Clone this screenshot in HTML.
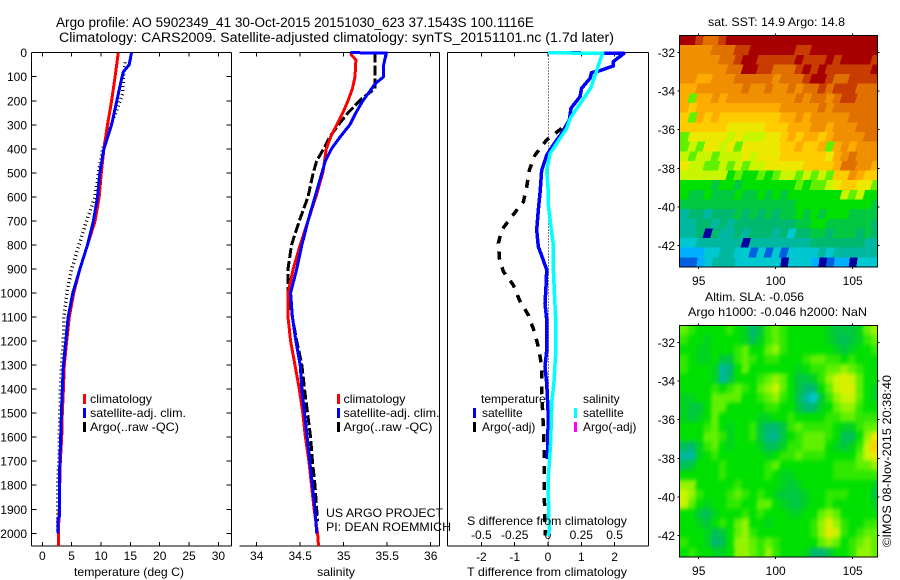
<!DOCTYPE html>
<html lang="en">
<head>
<meta charset="utf-8">
<title>Argo profile 5902349_41</title>
<style>
html,body{margin:0;padding:0;background:#fff;}
svg{display:block;}
text{font-family:"Liberation Sans",sans-serif;font-size:12px;fill:#000;}
</style>
</head>
<body>
<svg id="fig" xmlns="http://www.w3.org/2000/svg" width="900" height="580" viewBox="0 0 900 580">
<defs>
<filter id="smooth" x="-10%" y="-10%" width="120%" height="120%" color-interpolation-filters="sRGB"><feGaussianBlur stdDeviation="1.7 2"/></filter>
<clipPath id="clip-sst"><rect x="679.5" y="35.5" width="198" height="231.5"/></clipPath>
<clipPath id="clip-sla"><rect x="679.5" y="325.5" width="198" height="231.5"/></clipPath>
</defs>
<rect x="0" y="0" width="900" height="580" fill="#fff"/>
<g id="maps"></g>
<g id="plots"></g>
<text x="56" y="27" textLength="478" lengthAdjust="spacingAndGlyphs" style="font-size:13.5px">Argo profile: AO 5902349_41 30-Oct-2015 20151030_623 37.1543S 100.1116E</text>
<text x="59" y="42" textLength="555" lengthAdjust="spacingAndGlyphs" style="font-size:13.5px">Climatology: CARS2009. Satellite-adjusted climatology: synTS_20151101.nc (1.7d later)</text>
<text x="74" y="576" textLength="110" lengthAdjust="spacingAndGlyphs">temperature (deg C)</text>
<text x="317" y="576" textLength="38" lengthAdjust="spacingAndGlyphs">salinity</text>
<text x="467" y="576" textLength="160" lengthAdjust="spacingAndGlyphs">T difference from climatology</text>
<text x="467" y="525" textLength="160" lengthAdjust="spacingAndGlyphs">S difference from climatology</text>
<text x="326" y="517" textLength="117" lengthAdjust="spacingAndGlyphs">US ARGO PROJECT</text>
<text x="326" y="531" textLength="125" lengthAdjust="spacingAndGlyphs">PI: DEAN ROEMMICH</text>

<g>
<rect x="83" y="394" width="3" height="10" fill="#f00"/>
<text x="90" y="403" textLength="62" lengthAdjust="spacingAndGlyphs">climatology</text>
<rect x="83" y="408" width="3" height="10" fill="#00f"/>
<text x="90" y="417" textLength="96" lengthAdjust="spacingAndGlyphs">satellite-adj. clim.</text>
<rect x="83" y="422" width="3" height="10" fill="#000"/>
<text x="90" y="431" textLength="89" lengthAdjust="spacingAndGlyphs">Argo(..raw -QC)</text>
</g>
<g>
<rect x="337" y="394" width="3" height="10" fill="#f00"/>
<text x="343.5" y="403" textLength="62" lengthAdjust="spacingAndGlyphs">climatology</text>
<rect x="337" y="408" width="3" height="10" fill="#00f"/>
<text x="343.5" y="417" textLength="96" lengthAdjust="spacingAndGlyphs">satellite-adj. clim.</text>
<rect x="337" y="422" width="3" height="10" fill="#000"/>
<text x="343.5" y="431" textLength="89" lengthAdjust="spacingAndGlyphs">Argo(..raw -QC)</text>
</g>

<text x="708" y="26" textLength="137" lengthAdjust="spacingAndGlyphs">sat. SST: 14.9 Argo: 14.8</text>
<text x="705" y="301" textLength="99" lengthAdjust="spacingAndGlyphs">Altim. SLA: -0.056</text>
<text x="688" y="316" textLength="179" lengthAdjust="spacingAndGlyphs">Argo h1000: -0.046 h2000: NaN</text>
<text transform="translate(891,547) rotate(-90)" textLength="172" lengthAdjust="spacingAndGlyphs">©IMOS 08-Nov-2015 20:38:40</text>
</svg>

<script>
// ---- chart data ----
var depthTicks = [0,100,200,300,400,500,600,700,800,900,1000,1100,1200,1300,1400,1500,1600,1700,1800,1900,2000];
var tempTicks = [0,5,10,15,20,25,30];
var salTicks = [34,34.5,35,35.5,36];
var salTickLabels = ['34','34.5','35','35.5','36'];
var tDiffTicks = [-2,-1,0,1,2];
var sDiffTicks = [-0.5,-0.25,0,0.25,0.5];
var latTicks = [-32,-34,-36,-38,-40,-42];
var lonTicks = [95,100,105];

var tempClimDepth = [0,100,200,300,400,500,600,700,800,900,1000,1100,1200,1300,1400,1500,1600,1700,1800,1900,2000,2053];
var tempClimValues = [12.95,12.4,11.8,11.1,10.5,10.05,9.7,9.0,7.7,6.4,5.35,4.6,4.15,3.75,3.6,3.4,3.3,3.07,2.96,2.9,2.73,2.73];
var tempSatDepth = [0,50,80,100,200,300,400,500,600,700,800,900,1000,1100,1200,1300,1400,1500,1600,1700,1800,1930,1940,2000];
var tempSatValues = [15.2,14.8,13.8,13.6,12.7,11.8,10.5,9.8,9.4,8.7,7.7,6.4,5.2,4.4,4.0,3.6,3.4,3.25,3.13,3.0,2.9,2.9,2.67,2.67];
var tempArgoDepth = [40,100,170,300,400,500,600,700,800,900,1000,1100,1200,1300,1400,1500,1600,1700,1800,2000];
var tempArgoValues = [14.1,13.8,13.7,11.7,10.3,9.55,9.0,7.55,6.25,5.0,4.15,3.7,3.6,3.3,3.1,3.0,2.9,2.85,2.6,2.6];

var salClimDepth = [0,10,30,100,150,200,250,300,350,400,450,500,600,700,800,900,1000,1100,1200,1300,1400,1500,1600,1700,1800,1900,2000,2053];
var salClimValues = [35.08,35.09,35.14,35.13,35.1,35.05,34.99,34.92,34.85,34.8,34.78,34.76,34.68,34.59,34.5,34.42,34.36,34.36,34.39,34.44,34.49,34.53,34.56,34.6,34.63,34.66,34.70,34.71];
var salSatDepth = [0,1,50,100,130,170,200,250,300,350,400,450,500,600,700,800,900,1000,1100,1200,1300,1400,1500,1600,1700,1800,1900,2000];
var salSatValues = [35.08,35.49,35.46,35.46,35.36,35.28,35.22,35.14,35.07,34.96,34.86,34.79,34.75,34.67,34.59,34.52,34.46,34.39,34.41,34.45,34.5,34.52,34.55,34.58,34.61,34.64,34.67,34.69];
var salArgoDepth = [0,100,150,190,250,300,350,400,450,500,600,700,800,900,1000,1100,1200,1300,1400,1500,1600,1700,1800,1900,1950];
var salArgoValues = [35.36,35.36,35.36,35.21,35.05,34.94,34.84,34.77,34.69,34.65,34.59,34.49,34.4,34.36,34.36,34.41,34.46,34.52,34.55,34.585,34.62,34.64,34.67,34.69,34.7];

var tDiffSatDepth = [0,3,37,55,75,83,107,148,183,231,280,335,384,426,488,585,655,738,807,863,904,974,1043,1112,1237,1307,1375,1515,1690];
var tDiffSatValues = [0,2.28,1.96,1.96,1.56,1.31,1.26,1.01,0.96,0.69,0.64,0.41,0.16,-0.04,-0.19,-0.24,-0.29,-0.34,-0.29,-0.14,-0.04,-0.06,-0.09,-0.04,-0.04,-0.09,-0.04,0.01,-0.02];
var sDiffSatDepth = [0,3,148,270,315,420,489,561,622,692,800,900,987,1112,1250,1368,1460,1620,1790,1990,2010];
var sDiffSatValues = [0,0.41,0.32,0.17,0.14,0.015,-0.01,0,0,0.015,0.04,0.04,0.047,0.058,0.058,0.045,0.028,0.02,0,0.01,0];
var tDiffArgoDepth = [315,363,426,488,558,620,682,738,793,855,911,967,1029,1092,1168,1237,1307,1404,1557,1681,1833,1973,2010];
var tDiffArgoValues = [0.41,-0.04,-0.39,-0.56,-0.64,-0.74,-1.09,-1.39,-1.49,-1.46,-1.34,-1.04,-0.86,-0.59,-0.39,-0.27,-0.19,-0.19,-0.14,-0.11,-0.11,-0.09,-0.09];

var sstGrid = [
[0,0,1,2,2,1,0,0,0,0,0,0,0,0,0,0,0,0,0,0,0,0,0,0,0,0],
[3,3,3,3,2,2,2,1,1,0,0,0,0,0,0,1,1,0,0,0,0,0,0,0,0,0],
[3,3,3,3,3,2,2,1,0,0,1,1,1,1,1,0,1,1,1,0,1,0,0,0,0,1],
[3,3,3,3,3,3,2,2,0,0,1,1,2,2,2,1,0,1,0,1,1,1,1,1,1,0],
[3,3,4,4,3,3,3,2,2,2,2,2,3,2,2,2,1,0,0,1,2,2,1,1,1,1],
[4,4,3,3,3,3,3,3,2,3,3,2,3,3,2,3,2,2,1,2,1,1,1,2,2,2],
[4,8,4,4,3,4,3,3,3,3,3,3,3,3,3,2,3,2,2,3,2,1,1,2,2,2],
[4,5,4,4,4,4,4,4,4,4,4,4,4,3,3,3,3,3,2,3,2,2,2,2,2,2],
[5,8,4,5,4,5,5,5,5,5,5,5,5,4,4,3,4,3,3,3,3,3,2,2,2,2],
[5,5,5,5,5,5,6,6,6,6,6,5,5,5,4,4,4,3,3,4,3,3,3,2,2,2],
[8,6,6,6,6,6,7,6,7,7,7,6,6,5,4,5,4,4,5,4,3,3,3,3,2,2],
[8,7,8,6,6,7,6,8,6,6,6,6,6,5,5,4,5,5,4,8,4,3,4,3,3,3],
[7,8,7,7,8,7,7,7,6,7,6,6,6,5,5,5,5,5,5,6,4,3,2,3,3,3],
[6,7,7,8,8,7,8,7,8,7,7,6,6,6,6,6,5,5,5,5,4,2,2,3,3,4],
[7,7,7,7,7,7,9,8,9,9,8,9,8,7,7,8,7,8,7,8,5,5,3,4,5,5],
[9,9,9,9,10,9,9,10,9,9,9,9,9,9,9,8,9,8,8,7,6,5,5,6,6,8],
[9,10,10,9,10,10,10,9,10,10,9,10,9,10,9,9,9,9,9,9,9,7,8,7,9,9],
[10,10,10,10,10,10,10,10,10,10,10,10,10,10,10,9,9,9,9,9,9,9,9,9,9,10],
[12,11,11,12,11,11,11,10,11,10,11,10,11,10,10,9,10,9,10,9,9,9,10,10,10,10],
[12,12,11,11,12,11,12,11,11,11,11,11,11,11,11,10,10,9,9,10,10,10,10,10,10,11],
[12,12,11,16,11,12,12,11,12,11,11,11,12,11,13,11,11,10,10,11,10,10,10,11,10,11],
[13,13,12,12,12,12,12,12,16,12,12,12,12,12,12,12,12,11,11,11,11,11,11,11,12,12],
[14,14,14,13,13,12,12,13,13,15,13,15,13,15,13,13,13,13,12,13,12,12,12,12,12,12],
[15,15,14,13,12,12,12,13,13,13,13,13,13,16,13,13,13,14,16,15,14,14,16,13,13,13]
];
var slaGrid = [
[8,8.5,9,9,9,9,8.5,9,9.5,11,10,8.5,8,8.5,9,9,9,9,9,9.5,10,10,10,9.5,8,7.5],
[8.5,9,9,9.5,9,9,9,9,9.5,10.5,9.5,8.5,8,8.5,9,9,9,9,9,9.5,10,10.5,10,9.5,8.5,8],
[9,9,9.5,9.5,9,9,9,8.5,8,9,9,8,7.5,8.5,9,9,9,9,9,9,9.5,10,9.5,9,9,8.5],
[8.5,9,9.5,9.5,9,10,10,8.5,8,8.5,9,8.5,8.5,9,9,9,8.5,8,8,8.5,8.5,9,8.5,9,9,9],
[8.5,9,9,9,9.5,12,11,9,8,9,9,9,9,9,9,9.5,9,8.5,8.5,8,8,7.5,8,8.5,9,9],
[9,9,9,9,9.5,12,10.5,9,9,9,8.5,8,7.5,8,9,10,10,9.5,8.5,7.5,7,6.5,7,8,9,9],
[9,9,9,9,8.5,9,8.5,8,8.5,9,8,7.5,7,8,9,10,11,11,9,8,7,6.5,6.5,8,9,9.5],
[9.5,9.5,9,9,8,8,8,8,9,9,8.5,8,7.5,8.5,9,10.5,12,13,10,8.5,7.5,7,7,8,9,9.5],
[9.5,10,10,9,8,8,9,9,9,9,9,8.5,8.5,9,9,10,11,11,9.5,9,8,7.5,7.5,8.5,9,9],
[9.5,10,9.5,9,8,9,9,9,9,9,9.5,9.5,9,9,8.5,9,9,9,9,8.5,8.5,8,8,8.5,8.5,8.5],
[9,9,9,8.5,8,9,9.5,9,9,8.5,10,11,11,10,8.5,8,8.5,8.5,8.5,8.5,9,9.5,9.5,8.5,8,8],
[9,9,9,8,8,8.5,9.5,9,9,8.5,10,11.5,11.5,10,9,8.5,8,8,8,8.5,9,10.5,10.5,9,7.5,6],
[10.5,11,9.5,8.5,8,9,9.5,9,9,9,9.5,10.5,10.5,9.5,8.5,8.5,8,8,8,9,9.5,10,9.5,8.5,7,5],
[12,12,9.5,9,8.5,9,9,9,9,9,9,9.5,9,8.5,8.5,8,8.5,8.5,8.5,9,9,9,9,8,7,6],
[10.5,10,9,9,9,8.5,9,9,9,9,9,8.5,8,9,9,9,9,9,9,9,8.5,8.5,8.5,8,8,7.5],
[9,9,9,9,9,8.5,9,9,9,9,9,8.5,9,9.5,9.5,9,9,9,9,9,8.5,8.5,8.5,8.5,8.5,8.5],
[7.5,7.5,9,9,9,9,9,8.5,9,9,9,9,9,9.5,10,9.5,9,9,9,9,9,9,9,9,9,9.5],
[7,7.5,8.5,9,9,9,8.5,8,8.5,9,8.5,9,9.5,10,10,10,9.5,9,9,8.5,8.5,8.5,9,9,9,10],
[7,8,9,9.5,9,9,8.5,8.5,9,9,8,8,9,9.5,10,10,9.5,9,9,8.5,9,9,9,9,9,9.5],
[9,9,10,10.5,9.5,9,9,9,8.5,9,8.5,9,9,9,9.5,9.5,9,9,8,7.5,8,9,9,9,9,9],
[9,9,9.5,10,9,8.5,9,8,7.5,9,9,9.5,9,9,9,9,9,8.5,7.5,6.5,7.5,8.5,9,9,8.5,8.5],
[9,9,9,9.5,10.5,10,9,8,7.5,8.5,9,9,9,9,9,9,9,8.5,7.5,6,7,8.5,9,8.5,8,8],
[8.5,9,9,9.5,11,10.5,9,7.5,7.5,8,8.5,8,8.5,9,9,9,9,9,8,7.5,8,9,8.5,8,7.5,8],
[9,8.5,9,9,9.5,9.5,9,7.5,7.5,8,8.5,7.5,8.5,9,9,9,9.5,11,11,10,9,9,8.5,7.5,7.5,8]
];

// ---- axis functions ----
function yDepth(d){ return 52.7 + d*0.2403; }
function xTemp(v){ return 42.3 + v*5.87; }
function xSal(v){ return 256.7 + (v-34)*87; }
function xTDiff(v){ return 548 + v*33.3; }
function xSDiff(v){ return 548 + v*133.2; }
function xLon(v){ return 698.7 + (v-95)*15.4; }
function yLat(v, top){ return top + 17 + (-32-v)*19.3; }

var NS = 'http://www.w3.org/2000/svg';
var plots = document.getElementById('plots');
var maps = document.getElementById('maps');
function mk(tag, parent, attrs){
  var el = document.createElementNS(NS, tag);
  for (var k in attrs) el.setAttribute(k, attrs[k]);
  parent.appendChild(el);
  return el;
}
function seg(parent, x1, y1, x2, y2, name){
  var el = mk('line', parent, {x1:x1, y1:y1, x2:x2, y2:y2, stroke:'#000', 'stroke-width':1, 'shape-rendering':'crispEdges'});
  
  
  return el;
}
function label(parent, x, y, str, anchor, name){
  var el = mk('text', parent, {x:x, y:y, 'text-anchor':anchor});
  el.textContent = str;
  
  
  return el;
}
function curve(parent, xs, depths, fx, color, width, dash, name){
  var pts = xs.map(function(v,i){ return fx(v).toFixed(1)+','+yDepth(depths[i]).toFixed(1); }).join(' ');
  var attrs = {points:pts, fill:'none', stroke:color, 'stroke-width':width, 'stroke-linejoin':'round', 'shape-rendering':'crispEdges'};
  if (dash) attrs['stroke-dasharray'] = dash;
  var el = mk('polyline', parent, attrs);
  
  
  return el;
}

var TOP = 52.5, BOT = 546;

// ---- temperature panel ----
var p1 = mk('g', plots, {});


seg(p1, 31.5, TOP, 231.5, TOP, 'temperature-top-axis');
seg(p1, 31.5, BOT, 231.5, BOT, 'temperature-bottom-axis');
seg(p1, 31.5, TOP, 31.5, BOT, 'temperature-left-axis');
seg(p1, 231.5, TOP, 231.5, BOT, 'temperature-right-axis');
depthTicks.forEach(function(d){
  seg(p1, 31.5, yDepth(d), 36.5, yDepth(d), 'depth-tick-left');
  seg(p1, 226.5, yDepth(d), 231.5, yDepth(d), 'depth-tick-right');
  label(p1, 27, yDepth(d)+4.5, String(d), 'end', 'depth-tick-label');
});
tempTicks.forEach(function(t){
  seg(p1, xTemp(t), TOP, xTemp(t), TOP+4, 'temperature-tick-top');
  seg(p1, xTemp(t), BOT-4, xTemp(t), BOT, 'temperature-tick-bottom');
  label(p1, xTemp(t), 560, String(t), 'middle', 'temperature-tick-label');
});
curve(p1, tempArgoValues, tempArgoDepth, xTemp, '#000', 3.5, '1 3', 'temperature-argo-line');
curve(p1, tempClimValues, tempClimDepth, xTemp, '#f00', 3, null, 'temperature-climatology-line');
curve(p1, tempSatValues, tempSatDepth, xTemp, '#00f', 3, null, 'temperature-satellite-line');

// ---- salinity panel ----
var p2 = mk('g', plots, {});


seg(p2, 239.5, TOP, 439.5, TOP, 'salinity-top-axis');
seg(p2, 239.5, BOT, 439.5, BOT, 'salinity-bottom-axis');
seg(p2, 439.5, TOP, 439.5, BOT, 'salinity-right-axis');
salTicks.forEach(function(s,i){
  seg(p2, xSal(s), TOP, xSal(s), TOP+4, 'salinity-tick-top');
  seg(p2, xSal(s), BOT-4, xSal(s), BOT, 'salinity-tick-bottom');
  label(p2, xSal(s), 560, salTickLabels[i], 'middle', 'salinity-tick-label');
});
curve(p2, salArgoValues, salArgoDepth, xSal, '#000', 3, '10 3', 'salinity-argo-line');
curve(p2, salClimValues, salClimDepth, xSal, '#f00', 3, null, 'salinity-climatology-line');
curve(p2, salSatValues, salSatDepth, xSal, '#00f', 3, null, 'salinity-satellite-line');

// ---- difference panel ----
var p3 = mk('g', plots, {});


var zero = seg(p3, 548.5, TOP, 548.5, BOT, 'zero-reference-line');
zero.setAttribute('stroke-dasharray', '1 2');
seg(p3, 447.5, TOP, 648.5, TOP, 'difference-top-axis');
seg(p3, 447.5, BOT, 648.5, BOT, 'difference-bottom-axis');
seg(p3, 447.5, TOP, 447.5, BOT, 'difference-left-axis');
seg(p3, 648.5, TOP, 648.5, BOT, 'difference-right-axis');
tDiffTicks.forEach(function(t){
  seg(p3, xTDiff(t), TOP, xTDiff(t), TOP+4, 'difference-tick-top');
  seg(p3, xTDiff(t), BOT-4, xTDiff(t), BOT, 'difference-tick-bottom');
  label(p3, xTDiff(t), 561, String(t), 'middle', 't-difference-tick-label');
});
sDiffTicks.forEach(function(s){
  label(p3, xSDiff(s), 539, String(s), 'middle', 's-difference-tick-label');
});
curve(p3, tDiffArgoValues, tDiffArgoDepth, xTDiff, '#000', 3.5, '8 8', 'temperature-difference-argo-line');
curve(p3, tDiffSatValues, tDiffSatDepth, xTDiff, '#00f', 3.5, null, 'temperature-difference-satellite-line');
curve(p3, sDiffSatValues, sDiffSatDepth, xSDiff, '#0ff', 3.5, null, 'salinity-difference-satellite-line');

// Difference legend
var lg = mk('g', plots, {});


label(lg, 481, 403, 'temperature', 'start', 'legend-heading-temperature');
label(lg, 482, 417, 'satellite', 'start', 'legend-label-t-satellite');
label(lg, 482, 431, 'Argo(-adj)', 'start', 'legend-label-t-argo');
label(lg, 583, 403, 'salinity', 'start', 'legend-heading-salinity');
label(lg, 583, 417, 'satellite', 'start', 'legend-label-s-satellite');
label(lg, 583, 431, 'Argo(-adj)', 'start', 'legend-label-s-argo');
var sw1 = mk('rect', lg, {x:473, y:408, width:3, height:10, fill:'#00f'});


var sw2 = mk('rect', lg, {x:473, y:422, width:3, height:10, fill:'#000'});


var sw3 = mk('rect', lg, {x:574, y:408, width:3, height:10, fill:'#0ff'});


var sw4 = mk('rect', lg, {x:574, y:422, width:3, height:10, fill:'#f0f'});



// ---- maps ----
var ramp = [[168,0,0],[200,60,0],[224,112,0],[240,144,0],[255,172,0],[255,204,0],[236,232,0],[200,245,0],[96,240,0],[0,224,0],[0,200,64],[0,184,112],[0,184,160],[0,200,208],[0,176,255],[0,96,224],[0,0,160]];
function levelColor(v){
  var i = Math.max(0, Math.min(ramp.length-2, Math.floor(v)));
  var f = Math.max(0, Math.min(1, v-i));
  var c = [0,1,2].map(function(k){ return Math.round(ramp[i][k] + (ramp[i+1][k]-ramp[i][k])*f); });
  return 'rgb('+c.join(',')+')';
}
function drawMap(grid, top, name, clipId, smooth, slant){
  var L = 679.5, R = 877.5, B = top + 231.5;
  var g = mk('g', maps, {});
  
  
  var clip = mk('g', g, {'clip-path':'url(#'+clipId+')'});
  
  
  var field = mk('g', clip, smooth ? {filter:'url(#smooth)'} : {});
  
  
  var rows = grid.length, cols = grid[0].length;
  var cw = (R-L)/cols, ch = (B-top)/rows;
  grid.forEach(function(row, j){
    row.forEach(function(v, i){
      // outermost cells run past the frame so the clip, not the cell, makes the edge
      var x0 = L+i*cw - (i===0 ? 12 : 0);
      var x1 = L+(i+1)*cw + (i===cols-1 ? 12 : 0.6);
      var y0 = top+j*ch - (j===0 ? 12 : 0);
      var y1 = top+(j+1)*ch + (j===rows-1 ? 12 : 0.6);
      var pts = [x0,y1, x1,y1, x1+slant,y0, x0+slant,y0].map(function(n){ return n.toFixed(1); });
      var c = mk('polygon', field, {points:pts[0]+','+pts[1]+' '+pts[2]+','+pts[3]+' '+pts[4]+','+pts[5]+' '+pts[6]+','+pts[7], fill:levelColor(v), 'shape-rendering':'crispEdges'});
      
      
    });
  });
  var fr = mk('rect', g, {x:L, y:top, width:R-L, height:B-top, fill:'none', stroke:'#000', 'stroke-width':1, 'shape-rendering':'crispEdges'});
  
  
  latTicks.forEach(function(lat){
    var y = yLat(lat, top);
    seg(g, L-2, y, L, y, 'map-lat-tick-left');
    seg(g, R, y, R+2, y, 'map-lat-tick-right');
    label(g, 675, y+4.5, String(lat), 'end', 'map-lat-tick-label');
  });
  lonTicks.forEach(function(lon){
    var x = xLon(lon);
    seg(g, x, top-2, x, top, 'map-lon-tick-top');
    seg(g, x, B, x, B+2, 'map-lon-tick-bottom');
    label(g, x, B+18, String(lon), 'middle', 'map-lon-tick-label');
  });
}
drawMap(sstGrid, 35.5, 'sst-map', 'clip-sst', false, 3);
drawMap(slaGrid, 325.5, 'sla-map', 'clip-sla', true, 2);
</script>
</body>
</html>
